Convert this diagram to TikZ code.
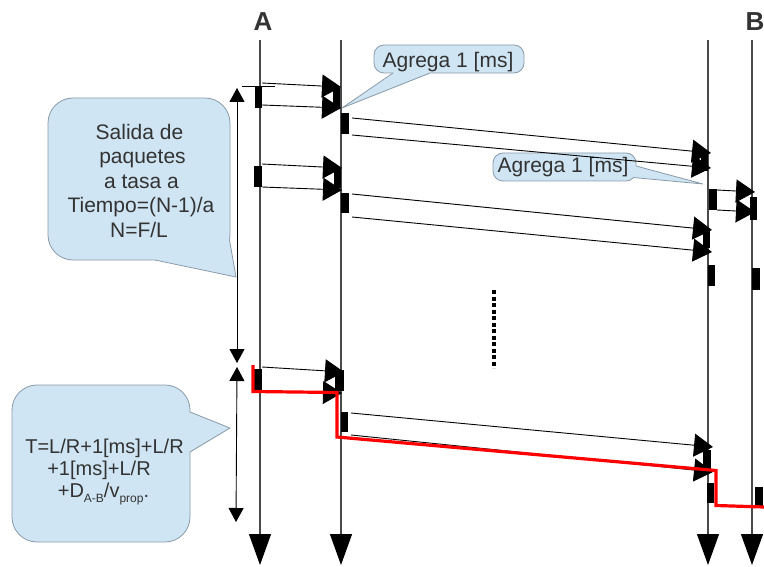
\documentclass[tikz,border=0pt]{standalone}
\usepackage{fontspec}
\setmainfont{Liberation Sans}
\usetikzlibrary{arrows.meta}
\definecolor{cfill}{HTML}{CFE5F3}
\definecolor{cline}{HTML}{8A9AA8}
\definecolor{ctext}{HTML}{333333}
\definecolor{lifec}{HTML}{4A4A4A}
\begin{document}
\begin{tikzpicture}[x=1pt,y=-1pt,
  life/.style={draw=lifec, line width=1.2pt, -{Triangle[length=31pt,width=22pt,color=black]}},
  msg/.style={draw=black, line width=0.9pt, -{Triangle[length=19pt,width=23pt]}},
  spanarrow/.style={draw=black, line width=0.9pt, {Triangle[length=14pt,width=15pt]}-{Triangle[length=14pt,width=15pt]}},
  cbox/.style={fill=cfill, draw=cline, line width=0.8pt},
  cedge/.style={draw=cline, line width=0.8pt},
  ctxt/.style={text=ctext, font=\fontsize{21}{24}\selectfont, inner sep=0pt, anchor=base},
  ftxt/.style={text=ctext, font=\fontsize{20}{22}\selectfont, inner sep=0pt, anchor=base},
  lbl/.style={text=ctext, font=\fontsize{26}{28}\selectfont\bfseries, inner sep=0pt, anchor=base},
  redpath/.style={draw=red, line width=3.2pt},
  dotline/.style={draw=black, line width=3.5pt, dash pattern=on 4pt off 2.5pt}]
\useasboundingbox (0,0) rectangle (764,567);

% ---------- callouts ----------
% top "Agrega"
\filldraw[cbox, rounded corners=10pt] (374,45) rectangle (524,73);
\fill[cfill] (342,108) -- (393,73.6) -- (393,69) -- (430,69) -- (430,73.6) -- cycle;
\draw[cedge] (393,73) -- (342,108) -- (430,73);
% second "Agrega"
\filldraw[cbox, rounded corners=10pt] (493,153) rectangle (636,181);
\fill[cfill] (703,184) -- (636.5,166) -- (630,166) -- (630,177.5) -- (633.5,177.5) -- cycle;
\draw[cedge] (636,166) -- (703,184) -- (633,177.5);
% big left callout
\filldraw[cbox, rounded corners=25pt] (48,98) rectangle (230,260);
\fill[cfill] (236,277) -- (155,259.6) -- (155,250) -- (225,236) -- (229.7,240) -- cycle;
\draw[cedge] (155,260) -- (236,277) -- (229.5,240);
% formula callout
\filldraw[cbox, rounded corners=25pt] (12,385) rectangle (190,542);
\fill[cfill] (230,428) -- (190.6,412) -- (185,412) -- (185,452) -- (190.6,452) -- cycle;
\draw[cedge] (190,412) -- (230,428) -- (190,452);

% ---------- texts ----------
\node[ctxt] (ag1) at (448,68) {Agrega 1 [ms]};
\node[ctxt] (ag2) at (563,173) {Agrega 1 [ms]};
\node[ctxt] (s1) at (139.5,139.5) {Salida de};
\node[ctxt] (s2) at (142.5,164) {paquetes};
\node[ctxt] (s3) at (141.5,188.5) {a tasa a};
\node[ctxt] (s4) at (141,213) {Tiempo=(N-1)/a};
\node[ctxt] (s5) at (139,237) {N=F/L};
\node[ftxt] (f1) at (104.5,453) {T=L/R+1[ms]+L/R};
\node[ftxt] (f2) at (99,475) {+1[ms]+L/R};
\node[ftxt] (f3) at (103.5,497) {+D\raisebox{-5pt}{\fontsize{12}{12}\selectfont A-B}/v\raisebox{-5pt}{\fontsize{12}{12}\selectfont prop}.};
\node[lbl] (labA) at (263,31) {A};
\node[lbl] (labB) at (755,31) {B};

% ---------- lifelines ----------
\coordinate (Atop) at (260,40); \coordinate (Abot) at (260,565);
\coordinate (Ctop) at (341,40); \coordinate (Cbot) at (341,565);
\coordinate (Dtop) at (708,40); \coordinate (Dbot) at (708,565);
\coordinate (Btop) at (752,40); \coordinate (Bbot) at (752,565);
\draw[life] (Atop) -- (Abot);
\draw[life] (Ctop) -- (Cbot);
\draw[life] (Dtop) -- (Dbot);
\draw[life] (Btop) -- (Bbot);

% ---------- time spans ----------
\coordinate (sp1a) at (237,88); \coordinate (sp1b) at (237,363);
\coordinate (sp2a) at (237,367); \coordinate (sp2b) at (236,522);
\draw[spanarrow] (sp1a) -- (sp1b);
\draw[spanarrow] (sp2a) -- (sp2b);
\coordinate (tk1) at (242,86); \coordinate (tk2) at (275,86);
\draw[black, line width=0.8pt] (tk1) -- (tk2);

% ---------- packets ----------
\fill[black] (255,87) rectangle (262,108);
\fill[black] (333,88) rectangle (340,108);
\fill[black] (341,113) rectangle (349,134);
\fill[black] (701,153) rectangle (708,171);
\fill[black] (709,189) rectangle (717,210);
\fill[black] (750,197) rectangle (757,220);

\fill[black] (254,166) rectangle (262,187);
\fill[black] (334,167) rectangle (341,188);
\fill[black] (341,193) rectangle (349,213);
\fill[black] (703,228) rectangle (710,248);
\fill[black] (708,265) rectangle (715,286);
\fill[black] (752,268) rectangle (760,290);

\fill[black] (254,369) rectangle (262,390);
\fill[black] (335,370) rectangle (344,391);
\fill[black] (341,412) rectangle (348,432);
\fill[black] (703,450) rectangle (711,470);
\fill[black] (707,483) rectangle (714,503);
\fill[black] (755,487) rectangle (763,508);

% ---------- messages ----------
\coordinate (m1a) at (262,83);  \coordinate (m1b) at (341,87);
\coordinate (m2a) at (262,105); \coordinate (m2b) at (341,108);
\coordinate (m3a) at (352,118); \coordinate (m3b) at (711,153);
\coordinate (m4a) at (352,135); \coordinate (m4b) at (711,168);
\coordinate (m5a) at (717,190); \coordinate (m5b) at (755,192);
\coordinate (m6a) at (717,210); \coordinate (m6b) at (755,212);
\coordinate (m7a) at (262,164); \coordinate (m7b) at (342,168);
\coordinate (m8a) at (262,187); \coordinate (m8b) at (342,190);
\coordinate (m9a) at (352,194); \coordinate (m9b) at (712,230);
\coordinate (m10a) at (352,217); \coordinate (m10b) at (712,252);
\coordinate (m11a) at (262,367); \coordinate (m11b) at (344,372);
\coordinate (m12a) at (262,391); \coordinate (m12b) at (342,393);
\coordinate (m13a) at (351,413); \coordinate (m13b) at (713,447);
\coordinate (m14a) at (351,435); \coordinate (m14b) at (713,472);
\foreach \i in {1,...,14} {\draw[msg] (m\i a) -- (m\i b);}

% ---------- dotted ellipsis ----------
\coordinate (dt1) at (494,290); \coordinate (dt2) at (494,368);
\draw[dotline] (dt1) -- (dt2);

% ---------- critical path ----------
\coordinate (r1) at (253,365); \coordinate (r2) at (253,391.5);
\coordinate (r3) at (337,392.5); \coordinate (r4) at (337,437);
\coordinate (r5) at (716,470.5); \coordinate (r6) at (716,505.5);
\coordinate (r7) at (764,507);
\draw[redpath] (r1) -- (r2) -- (r3) -- (r4) -- (r5) -- (r6) -- (r7);
\end{tikzpicture}
\end{document}
